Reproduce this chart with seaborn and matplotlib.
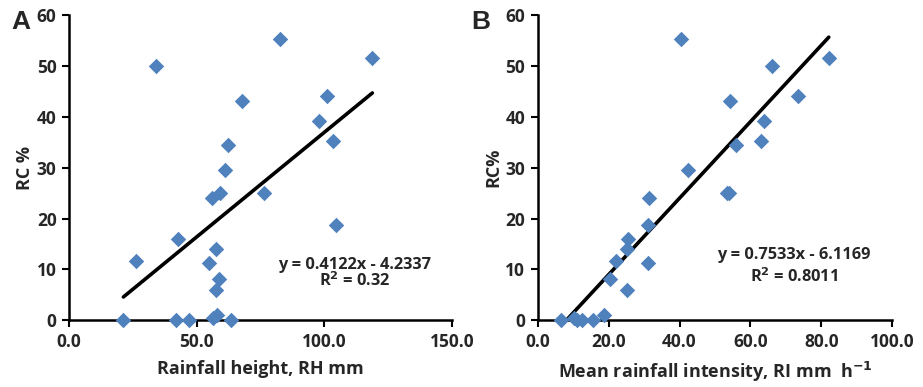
import numpy as np
import pandas as pd
import matplotlib
matplotlib.use("Agg")
import matplotlib.pyplot as plt
import seaborn as sns

# runoff coefficient (%) per event, same for both panels
rc = [0.0, 11.7, 50.0, 15.9, 0.0, 0.0, 11.3, 24.0, 14.0, 8.1, 6.0, 0.5, 1.0,
      0.0, 25.0, 29.6, 34.4, 43.2, 25.0, 55.3, 39.2, 44.2, 35.2, 18.8, 51.6]
# panel A: rainfall height (mm)
rh = [21.3, 26.1, 34.2, 42.6, 41.9, 47.1, 54.8, 55.9, 57.6, 58.8, 57.5, 56.3, 58.1,
      63.5, 59.3, 61.0, 62.4, 67.8, 76.5, 82.5, 97.8, 100.9, 103.4, 104.7, 118.8]
# panel B: mean rainfall intensity (mm/h)
ri = [12.5, 22.1, 66.2, 25.5, 6.5, 15.7, 31.2, 31.5, 25.1, 20.3, 25.3, 10.3, 18.6,
      11.2, 53.3, 42.5, 55.9, 54.2, 53.9, 40.3, 63.9, 73.4, 63.1, 31.2, 82.1]

fits = {"A": (0.4122, -4.2337, "0.32"), "B": (0.7533, -6.1169, "0.8011")}

sns.set_style("ticks")
plt.rcParams["font.family"] = ["Open Sans", "DejaVu Sans"]
plt.rcParams["font.weight"] = "bold"

fig = plt.figure(figsize=(9.23, 3.87), dpi=100)
axA = fig.add_axes([0.0748, 0.173, 0.4149, 0.787])
axB = fig.add_axes([0.5826, 0.173, 0.3841, 0.787])

blue = "#4F81BD"
panels = [
    (axA, rh, "A", "Rainfall height, RH mm", "RC %", [0, 50, 100, 150],
     ["0.0", "50.0", "100.0", "150.0"], 150, (112, 10.8, 7.7)),
    (axB, ri, "B", "Mean rainfall intensity, RI mm  h$^{\\mathbf{-1}}$", "RC%",
     [0, 20, 40, 60, 80, 100], ["0.0", "20.0", "40.0", "60.0", "80.0", "100.0"], 100,
     (72.3, 12.8, 8.5)),
]

for ax, xs, key, xlabel, ylabel, xt, xtl, xmax, (tx, ty1, ty2) in panels:
    df = pd.DataFrame({"x": xs, "y": rc})
    slope, icpt, r2 = fits[key]
    lx = [min(xs), max(xs)]
    line = pd.DataFrame({"x": lx, "y": [slope * v + icpt for v in lx]})
    sns.lineplot(data=line, x="x", y="y", ax=ax, color="black", linewidth=2.6)
    sns.scatterplot(data=df, x="x", y="y", ax=ax, marker="D", s=62, color=blue,
                    edgecolor=blue, linewidth=0, clip_on=False, zorder=3)
    ax.set_xlim(0, xmax)
    ax.set_ylim(0, 60)
    ax.set_xticks(xt)
    ax.set_xticklabels(xtl)
    ax.set_yticks(range(0, 61, 10))
    ax.set_xlabel(xlabel, fontsize=13, fontweight="bold", labelpad=7)
    ax.set_ylabel(ylabel, fontsize=13, fontweight="bold", labelpad=2)
    ax.tick_params(labelsize=12.5, width=1.5, length=5, pad=4, color="black")
    for lab in ax.get_xticklabels() + ax.get_yticklabels():
        lab.set_fontweight("bold")
    for s in ["left", "bottom"]:
        ax.spines[s].set_linewidth(1.8)
        ax.spines[s].set_color("black")
    sns.despine(ax=ax)
    ax.text(tx, ty1, f"y = {slope}x - {abs(icpt)}", ha="center", va="center",
            fontsize=11.8, fontweight="bold")
    ax.text(tx, ty2, "R$^{\\mathbf{2}}$ = " + r2, ha="center", va="center",
            fontsize=11.8, fontweight="bold")

fig.text(0.012, 0.975, "A", fontsize=19, fontweight="bold", family="Liberation Sans",
         va="top")
fig.text(0.511, 0.975, "B", fontsize=19, fontweight="bold", family="Liberation Sans",
         va="top")

fig.savefig("out.png", dpi=100)
